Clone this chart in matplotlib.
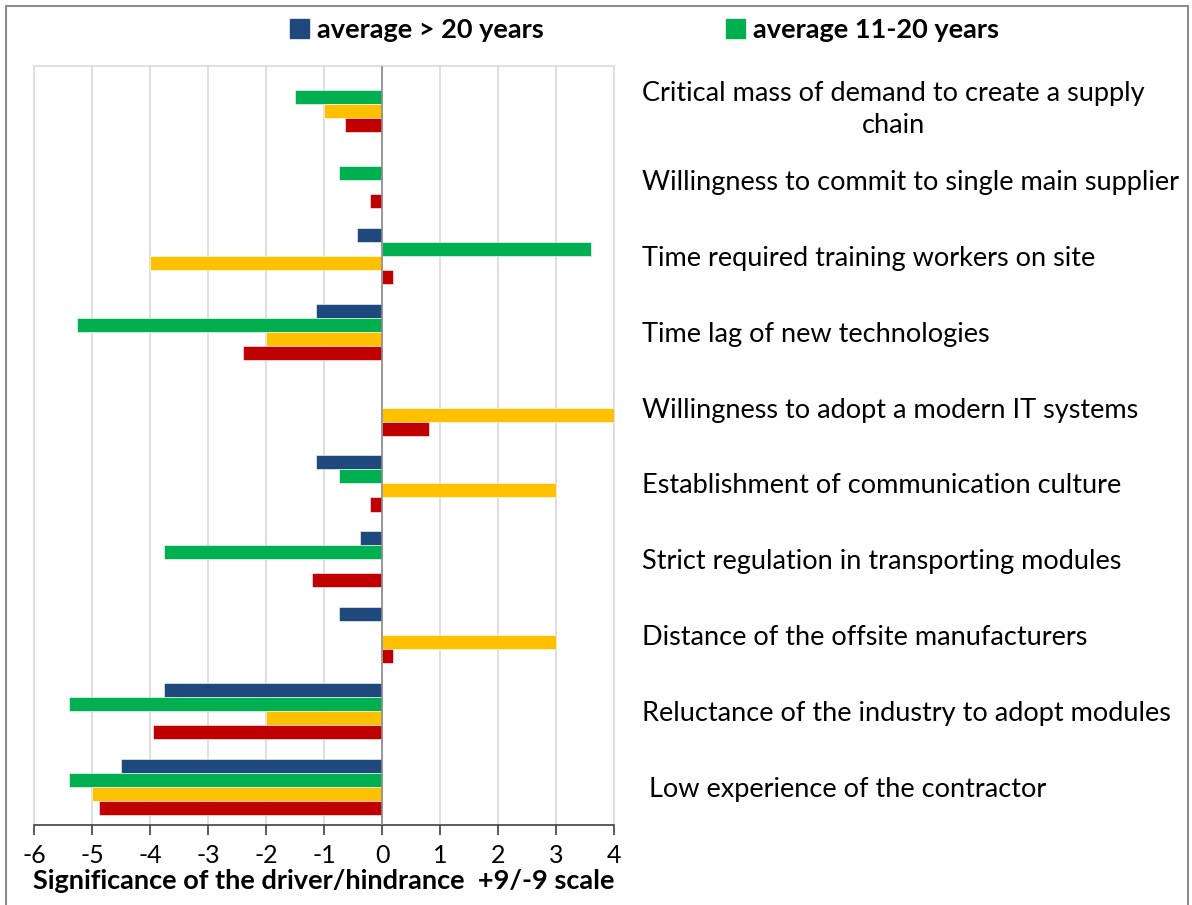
import numpy as np
import matplotlib.pyplot as plt
from matplotlib.patches import Rectangle, Patch

plt.rcParams['font.family'] = ['Lato', 'DejaVu Sans']
plt.rcParams['axes.unicode_minus'] = False

# categories, top to bottom
categories = [
    "Critical mass of demand to create a supply\nchain",
    "Willingness to commit to single main supplier",
    "Time required training workers on site",
    "Time lag of new technologies",
    "Willingness to adopt a modern IT systems",
    "Establishment of communication culture",
    "Strict regulation in transporting modules",
    "Distance of the offsite manufacturers",
    "Reluctance of the industry to adopt modules",
    " Low experience of the contractor",
]

over_20 = [0, 0, -0.43, -1.14, 0, -1.14, -0.38, -0.74, -3.76, -4.5]
yrs_11_20 = [-1.5, -0.74, 3.6, -5.26, 0, -0.74, -3.76, 0, -5.4, -5.4]
series_3 = [-1.0, 0, -4.0, -2.0, 4.0, 3.0, 0, 3.0, -2.0, -5.0]
series_4 = [-0.64, -0.2, 0.19, -2.4, 0.81, -0.2, -1.2, 0.19, -3.95, -4.88]

series = [over_20, yrs_11_20, series_3, series_4]
colors = ['#1F497D', '#00B050', '#FFC000', '#C00000']
names = ['average > 20 years', 'average 11-20 years']

fig = plt.figure(figsize=(11.92, 9.05), dpi=100)
ax = fig.add_axes([34/1192, 1 - 825/905, 580/1192, 759/905])

y = np.arange(len(categories))
h = 0.185
for k, (vals, c) in enumerate(zip(series, colors)):
    ax.barh(y + (k - 1.5) * h, vals, height=h, color=c, edgecolor='white', linewidth=0.4, zorder=3)

ax.set_xlim(-6, 4)
ax.set_ylim(len(categories) - 0.5, -0.5)
ax.set_xticks(np.arange(-6, 5, 1))
ax.xaxis.grid(True, color='#D9D9D9', linewidth=1.2, zorder=0)
ax.axvline(0, color='#8C8C8C', linewidth=1.2, zorder=4)

ax.yaxis.tick_right()
ax.set_yticks(y)
ax.set_yticklabels(categories, fontsize=19.5)
for lbl in ax.get_yticklabels():
    lbl.set_multialignment('center')
    lbl.set_linespacing(1.35)
ax.tick_params(axis='y', length=0, pad=20)
ax.tick_params(axis='x', direction='out', length=7, width=1.2, color='#404040', labelsize=18, pad=7)

for s in ['top', 'left', 'right']:
    ax.spines[s].set_color('#D9D9D9')
    ax.spines[s].set_linewidth(1.2)
ax.spines['bottom'].set_color('#404040')
ax.spines['bottom'].set_linewidth(1.2)

ax.set_xlabel('Significance of the driver/hindrance  +9/-9 scale', fontsize=19.5,
              fontweight='bold', labelpad=1)

for i, xpos in enumerate([290, 726]):
    leg = fig.legend(handles=[Patch(color=colors[i], label=names[i])], loc='center left',
                     bbox_to_anchor=(xpos/1192, 1 - 30/905), frameon=False,
                     prop={'size': 19.5, 'weight': 'bold'}, handlelength=0.7,
                     handleheight=0.7, handletextpad=0.3, borderpad=0, borderaxespad=0)

fig.patches.append(Rectangle((6/1192, -0.01), 1182/1192, 1 - 6/905 + 0.01,
                             transform=fig.transFigure, fill=False,
                             edgecolor='#8C8C8C', linewidth=1.5))

fig.savefig('out.png', dpi=100)
